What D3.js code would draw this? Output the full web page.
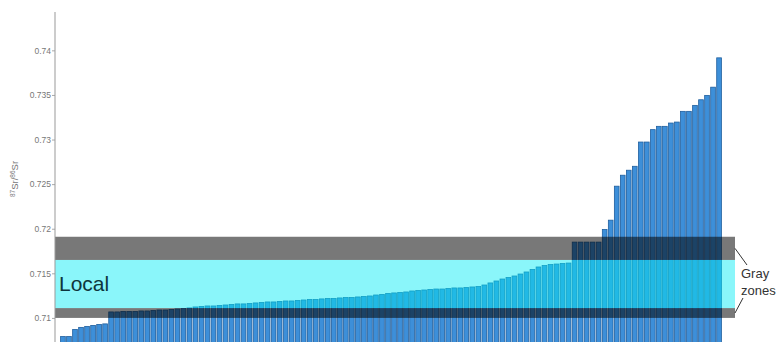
<!DOCTYPE html>
<html><head><meta charset="utf-8">
<script src="https://cdn.jsdelivr.net/npm/d3@7"></script>
<style>html,body{margin:0;padding:0;background:#fff;}svg{display:block;}</style>
</head><body>
<svg id="chart" width="784" height="342"></svg>
<script>
// Sorted 87Sr/86Sr values (one bar per sample)
const values = [
  0.70791, 0.70791, 0.70871, 0.70894, 0.70905, 0.70916, 0.70927, 0.70933,
  0.71067, 0.71067, 0.71073, 0.71073, 0.71073, 0.71078, 0.71078, 0.71084,
  0.71089, 0.71089, 0.71095, 0.71101, 0.71106, 0.71112, 0.71123, 0.71129,
  0.71134, 0.71134, 0.71140, 0.71145, 0.71151, 0.71157, 0.71157, 0.71162,
  0.71168, 0.71173, 0.71179, 0.71179, 0.71185, 0.71190, 0.71190, 0.71196,
  0.71201, 0.71207, 0.71207, 0.71213, 0.71218, 0.71218, 0.71224, 0.71229,
  0.71229, 0.71235, 0.71241, 0.71246, 0.71257, 0.71263, 0.71274, 0.71280,
  0.71285, 0.71291, 0.71302, 0.71308, 0.71313, 0.71319, 0.71324, 0.71324,
  0.71330, 0.71336, 0.71336, 0.71341, 0.71347, 0.71352, 0.71369, 0.71392,
  0.71414, 0.71436, 0.71453, 0.71470, 0.71492, 0.71515, 0.71543, 0.71571,
  0.71587, 0.71598, 0.71604, 0.71610, 0.71615, 0.71850, 0.71850, 0.71850,
  0.71850, 0.71850, 0.71992, 0.72096, 0.72477, 0.72600, 0.72656, 0.72700,
  0.72972, 0.72972, 0.73111, 0.73148, 0.73148, 0.73185, 0.73196, 0.73316,
  0.73316, 0.73383, 0.73446, 0.73495, 0.73587, 0.73916
];
const samples = values.map((d, i) => "S" + (i + 1));
const tickValues = [0.71, 0.715, 0.72, 0.725, 0.73, 0.735, 0.74];
const tickLabels = ["0.71", "0.715", "0.72", "0.725", "0.73", "0.735", "0.74"];
const grayZones = [[0.7165, 0.7191], [0.7100, 0.7111]];
const localZone = [0.7111, 0.7165];
const localLabel = "Local";
const grayLabel = ["Gray", "zones"];

const svg = d3.select("#chart");
const y = d3.scaleLinear().domain([0.7073, 0.7443]).range([342, 12]);
const x = d3.scaleBand().domain(samples).range([60, 722]).paddingInner(0.22).paddingOuter(0.1);
const axisX = 55, zoneRight = 735;

// bars
svg.append("g").selectAll("rect").data(values).join("rect")
  .attr("x", (d, i) => x(samples[i]))
  .attr("width", x.bandwidth())
  .attr("y", d => y(d))
  .attr("height", d => y.range()[0] - y(d) + 5)
  .attr("fill", "#3d8fd9")
  .attr("stroke", "#205f9e")
  .attr("stroke-width", 0.8);

// zones (overlaid, translucent)
svg.append("rect")
  .attr("x", axisX).attr("width", zoneRight - axisX)
  .attr("y", y(localZone[1])).attr("height", y(localZone[0]) - y(localZone[1]))
  .attr("fill", "#00ebf5").attr("opacity", 0.46);
svg.append("g").selectAll("rect").data(grayZones).join("rect")
  .attr("x", axisX).attr("width", zoneRight - axisX)
  .attr("y", d => y(d[1])).attr("height", d => y(d[0]) - y(d[1]))
  .attr("fill", "#000").attr("opacity", 0.53);

// axis
const axis = d3.axisLeft(y).tickValues(tickValues)
  .tickFormat((d, i) => tickLabels[i]).tickSize(3).tickPadding(1);
const ag = svg.append("g").attr("transform", `translate(${axisX},0)`).call(axis);
ag.select(".domain").remove();
ag.selectAll(".tick line").attr("stroke", "#aaa");
ag.selectAll(".tick text").attr("fill", "#777").attr("font-size", 8.5)
  .attr("font-family", "Liberation Sans, Arial, sans-serif");
svg.append("line").attr("x1", axisX).attr("x2", axisX).attr("y1", 12).attr("y2", 342)
  .attr("stroke", "#999").attr("stroke-width", 1);

// y title 87Sr/86Sr
const title = svg.append("text")
  .attr("transform", "translate(18,179) rotate(-90)")
  .attr("text-anchor", "middle").attr("fill", "#777")
  .attr("font-family", "Liberation Sans, Arial, sans-serif").attr("font-size", 9.5);
title.append("tspan").attr("font-size", 6.5).attr("dy", -3).text("87");
title.append("tspan").attr("dy", 3).text("Sr/");
title.append("tspan").attr("font-size", 6.5).attr("dy", -3).text("86");
title.append("tspan").attr("dy", 3).text("Sr");

// Local label
svg.append("text").attr("x", 59).attr("y", y((localZone[0] + localZone[1]) / 2) + 7)
  .attr("font-family", "Liberation Sans, Arial, sans-serif").attr("font-size", 21)
  .attr("fill", "#0e353c").text(localLabel);

// Gray zones callout
const upMid = y((grayZones[0][0] + grayZones[0][1]) / 2);
const lowMid = y((grayZones[1][0] + grayZones[1][1]) / 2);
svg.append("line").attr("x1", zoneRight).attr("y1", upMid).attr("x2", 747).attr("y2", 265)
  .attr("stroke", "#333").attr("stroke-width", 1);
svg.append("line").attr("x1", 743).attr("y1", 298).attr("x2", zoneRight).attr("y2", lowMid)
  .attr("stroke", "#333").attr("stroke-width", 1);
svg.append("text").attr("x", 741).attr("y", 278)
  .attr("font-family", "Liberation Sans, Arial, sans-serif").attr("font-size", 13)
  .attr("fill", "#333").text(grayLabel[0]);
svg.append("text").attr("x", 741).attr("y", 295)
  .attr("font-family", "Liberation Sans, Arial, sans-serif").attr("font-size", 13)
  .attr("fill", "#333").text(grayLabel[1]);
</script>
</body></html>
